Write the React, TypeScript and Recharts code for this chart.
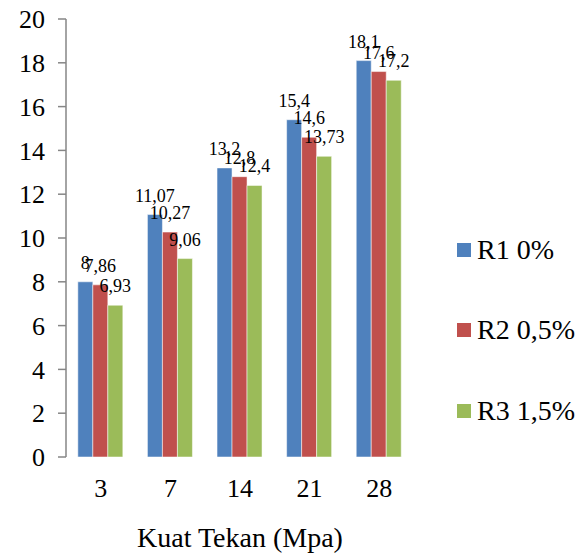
import React from 'react';
import { BarChart, Bar, XAxis, YAxis, Legend, LabelList } from 'recharts';

const categories = ['3', '7', '14', '21', '28'];
const r1 = [8, 11.07, 13.2, 15.4, 18.1];
const r2 = [7.86, 10.27, 12.8, 14.6, 17.6];
const r3 = [6.93, 9.06, 12.4, 13.73, 17.2];
const yTicks = [0, 2, 4, 6, 8, 10, 12, 14, 16, 18, 20];
const seriesNames = ['R1 0%', 'R2 0,5%', 'R3 1,5%'];
const colors = ['#4F81BD', '#C0504D', '#9BBB59'];

const data = categories.map((c, i) => ({ cat: c, r1: r1[i], r2: r2[i], r3: r3[i] }));

const FONT = "'Liberation Serif', 'Times New Roman', Times, serif";

const fmt = (v: any) => String(v).replace('.', ',');

const LegendContent = () => (
  <div style={{ position: 'relative', width: 130, height: 200, fontFamily: FONT, fontSize: 28, color: '#000' }}>
    {seriesNames.map((n, i) => (
      <div key={n} style={{ position: 'absolute', left: 0, top: [0, 80, 161][i], display: 'flex', alignItems: 'center', whiteSpace: 'nowrap', lineHeight: '30px', fontFamily: FONT }}>
        <span style={{ display: 'inline-block', width: 14, height: 14, background: colors[i], marginRight: 6 }} />
        <span>{n}</span>
      </div>
    ))}
  </div>
);

export default function App() {
  const keys = ['r1', 'r2', 'r3'];
  const tickStyle = { fill: '#000', fontSize: 26, fontFamily: FONT, style: { fontFamily: FONT } };
  return (
    <div style={{ position: 'absolute', left: 0, top: 0, width: 584, height: 556, background: '#fff', fontFamily: FONT }}>
      <BarChart
        width={584}
        height={556}
        data={data}
        margin={{ top: 19, right: 40, bottom: 0, left: 0 }}
        barCategoryGap="17%"
        barGap={0}
        style={{ fontFamily: FONT }}
      >
        <XAxis
          dataKey="cat"
          height={99}
          axisLine={false}
          tickLine={false}
          tickSize={10}
          tickMargin={12}
          tick={tickStyle}
          label={{ value: 'Kuat Tekan (Mpa)', position: 'insideBottom', offset: 9, fill: '#000', fontSize: 28, fontFamily: FONT, style: { fontFamily: FONT } }}
        />
        <YAxis
          width={66}
          domain={[0, 20]}
          ticks={yTicks}
          interval={0}
          axisLine={{ stroke: '#868686', strokeWidth: 1.5 }}
          tickLine={{ stroke: '#868686', strokeWidth: 1.5 }}
          tickSize={8}
          tickMargin={13}
          tick={tickStyle}
        />
        <Legend
          layout="vertical"
          verticalAlign="middle"
          align="right"
          content={<LegendContent />}
          wrapperStyle={{ position: 'absolute', left: 457, top: 235, width: 130, height: 200 }}
        />
        {keys.map((k, i) => (
          <Bar key={k} dataKey={k} name={seriesNames[i]} fill={colors[i]} stroke="#ffffff" strokeOpacity={0.5} strokeWidth={1} isAnimationActive={false}>
            <LabelList dataKey={k} position="top" offset={13} formatter={fmt} style={{ fill: '#000', fontSize: 18, fontFamily: FONT }} />
          </Bar>
        ))}
      </BarChart>
    </div>
  );
}
